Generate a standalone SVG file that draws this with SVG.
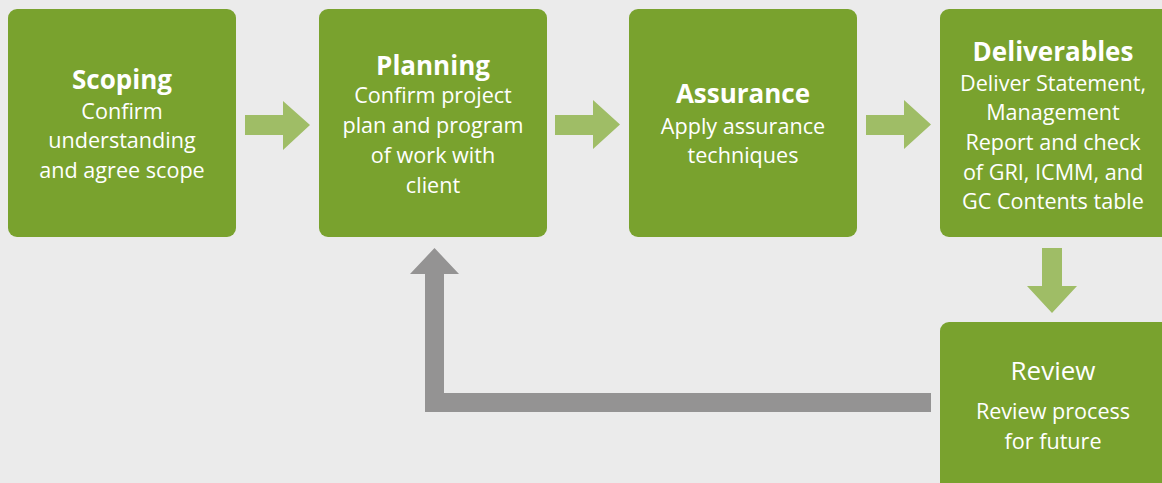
<svg xmlns="http://www.w3.org/2000/svg" width="1162" height="483" viewBox="0 0 1162 483">
<style>
.box{fill:#79a22e}
.arr{fill:#9fbd66}
.back{fill:#949393}
text{font-family:"Open Sans","Noto Sans","Liberation Sans",sans-serif;fill:#ffffff;text-anchor:middle}
.t{font-size:26px;font-weight:bold}
.b{font-size:21.6px}
.rt{font-size:26px}
</style>
<rect width="1162" height="483" fill="#ebebeb"/>
<g id="connectors">
<polygon class="arr" points="245,115 283,115 283,101 310,125 283,150 283,135 245,135"/>
<polygon class="arr" points="555,115 593,115 593,100 620,124.5 593,149 593,135 555,135"/>
<polygon class="arr" points="866,115 904,115 904,100 931,124.5 904,149 904,135 866,135"/>
<polygon class="arr" points="1042,248 1062,248 1062,286 1077,286 1052,313 1027,286 1042,286"/>
<polygon class="back" points="931,393 444,393 444,274 459,274 434.5,248 410,274 425,274 425,412 931,412"/>
</g>
<g id="scoping">
<rect class="box" x="8" y="9" width="228" height="228" rx="9"/>
<text class="t" x="122" y="89">Scoping</text>
<text class="b" x="122" y="119">Confirm</text>
<text class="b" x="122" y="148">understanding</text>
<text class="b" x="122" y="178">and agree scope</text>
</g>
<g id="planning">
<rect class="box" x="319" y="9" width="228" height="228" rx="9"/>
<text class="t" x="433" y="75">Planning</text>
<text class="b" x="433" y="103">Confirm project</text>
<text class="b" x="433" y="133">plan and program</text>
<text class="b" x="433" y="163">of work with</text>
<text class="b" x="433" y="193">client</text>
</g>
<g id="assurance">
<rect class="box" x="629" y="9" width="228" height="228" rx="9"/>
<text class="t" x="743" y="103">Assurance</text>
<text class="b" x="743" y="134">Apply assurance</text>
<text class="b" x="743" y="163">techniques</text>
</g>
<g id="deliverables">
<rect class="box" x="940" y="9" width="232" height="228" rx="9"/>
<text class="t" x="1053" y="61">Deliverables</text>
<text class="b" x="1053" y="91">Deliver Statement,</text>
<text class="b" x="1053" y="120">Management</text>
<text class="b" x="1053" y="150">Report and check</text>
<text class="b" x="1053" y="180">of GRI, ICMM, and</text>
<text class="b" x="1053" y="209">GC Contents table</text>
</g>
<g id="review">
<rect class="box" x="940" y="322" width="232" height="170" rx="9"/>
<text class="rt" x="1053" y="380">Review</text>
<text class="b" x="1053" y="419">Review process</text>
<text class="b" x="1053" y="449">for future</text>
</g>
</svg>
